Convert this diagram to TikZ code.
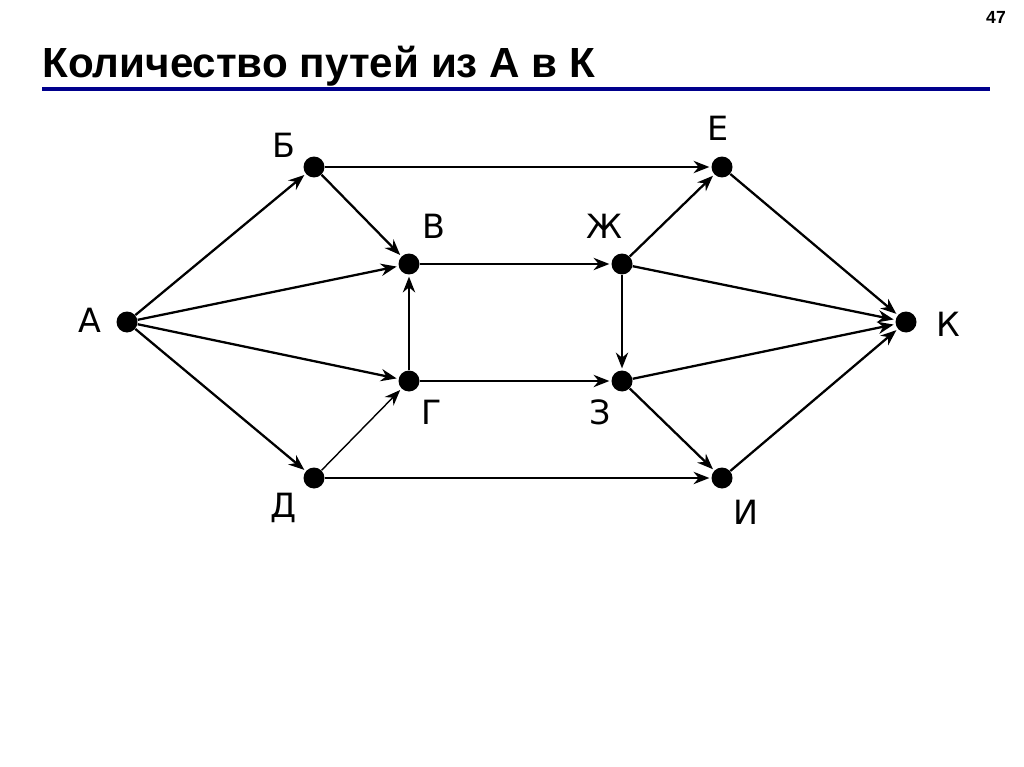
\documentclass[tikz,border=0pt]{standalone}
\usepackage{fontspec}
\setmainfont{DejaVu Sans}
\newfontfamily\titlefont{Liberation Sans}
\usetikzlibrary{arrows.meta}
\begin{document}
\begin{tikzpicture}[x=0.02cm,y=-0.02cm,
  dot/.style={circle,fill=black,inner sep=0pt,minimum size=0.42cm},
  lbl/.style={font=\fontsize{19}{22}\selectfont},
  edge/.style={-{Stealth[length=9pt,width=7pt]},line width=1.3pt,shorten >=1pt}]
\useasboundingbox (0,0) rectangle (1024,767);
\node[anchor=west,inner sep=0pt,font=\titlefont\bfseries\fontsize{24}{28}\selectfont] (title) at (42,66) {Количество путей из А в К};
\node[font=\titlefont\bfseries\fontsize{10}{12}\selectfont] (num) at (996,17) {47};
\draw[line width=2.2pt,color={rgb,255:red,0;green,0;blue,140}] (42,89) coordinate (l1) -- (990,89) coordinate (l2);
\node[dot] (A) at (127,322) {};
\node[dot] (B) at (314,167) {};
\node[dot] (V) at (409,264) {};
\node[dot] (Zh) at (622,264) {};
\node[dot] (E) at (722,167) {};
\node[dot] (K) at (906,322) {};
\node[dot] (G) at (409,381) {};
\node[dot] (Z) at (622,381) {};
\node[dot] (D) at (314,478) {};
\node[dot] (I) at (722,478) {};
\node[lbl] (lA) at (90,320) {А};
\node[lbl] (lB) at (284,145) {Б};
\node[lbl] (lV) at (434,226) {В};
\node[lbl] (lZh) at (604,226) {Ж};
\node[lbl] (lE) at (718,128) {Е};
\node[lbl] (lK) at (948,324) {К};
\node[lbl] (lG) at (432,412) {Г};
\node[lbl] (lZ) at (600,412) {З};
\node[lbl] (lD) at (284,508) {Д};
\node[lbl] (lI) at (746,512) {И};
\foreach \a/\b in {A/B,A/V,A/G,A/D,B/E,B/V,V/Zh,Zh/E,Zh/K,Zh/Z,E/K,G/V,G/Z,Z/K,Z/I,D/I,I/K}
  \draw[edge] (\a) -- (\b);
\draw[edge,line width=0.8pt] (D) -- (G);
\end{tikzpicture}
\end{document}
